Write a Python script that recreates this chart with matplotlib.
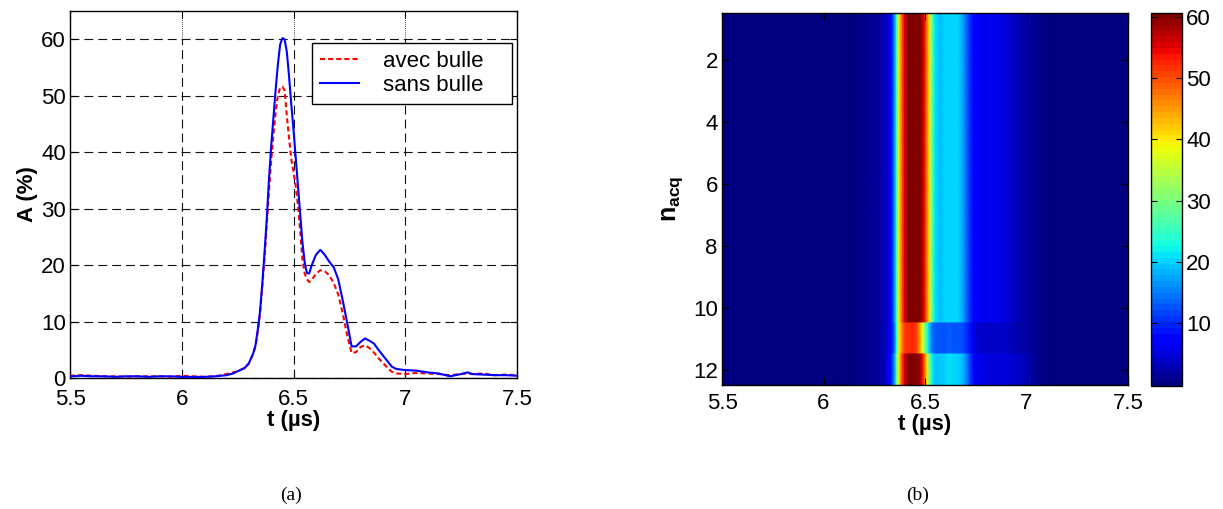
import numpy as np
import matplotlib
matplotlib.use('Agg')
import matplotlib.pyplot as plt
from matplotlib.colors import Normalize
from matplotlib.cm import ScalarMappable

plt.rcParams['font.family'] = ['Liberation Sans', 'DejaVu Sans']
plt.rcParams['mathtext.fontset'] = 'custom'
plt.rcParams['mathtext.rm'] = 'Liberation Sans'
plt.rcParams['mathtext.bf'] = 'Liberation Sans:bold'

# ---------------- data ----------------
t = [5.50, 5.55, 5.60, 5.65, 5.70, 5.75, 5.80, 5.85, 5.90, 5.95,
     6.00, 6.05, 6.10, 6.15, 6.20, 6.23, 6.25, 6.28, 6.30, 6.32,
     6.33, 6.34, 6.35, 6.36, 6.37, 6.38, 6.39, 6.40, 6.41, 6.42,
     6.43, 6.44, 6.45, 6.46, 6.47, 6.48, 6.49, 6.50, 6.51, 6.52,
     6.53, 6.54, 6.55, 6.56, 6.57, 6.58, 6.60, 6.62, 6.64, 6.66,
     6.68, 6.70, 6.72, 6.74, 6.76, 6.78, 6.80, 6.82, 6.84, 6.86,
     6.88, 6.90, 6.92, 6.94, 6.96, 7.00, 7.05, 7.10, 7.15, 7.20,
     7.25, 7.28, 7.30, 7.35, 7.40, 7.45, 7.50]

a_sans_bulle = [0.3, 0.4, 0.3, 0.3, 0.2, 0.3, 0.3, 0.2, 0.3, 0.3,
                0.2, 0.2, 0.2, 0.3, 0.5, 0.8, 1.2, 1.7, 2.6, 4.4,
                5.8, 8.5, 11.7, 16.5, 22.0, 28.0, 35.0, 41.0, 46.0, 51.0,
                55.5, 59.0, 60.2, 60.0, 57.8, 53.5, 48.5, 44.0, 39.0, 34.0,
                29.0, 24.0, 20.5, 18.6, 18.5, 19.8, 21.8, 22.7, 21.8, 20.6,
                19.6, 17.5, 13.8, 9.8, 5.6, 5.6, 6.4, 7.0, 6.6, 6.1,
                5.0, 4.0, 3.0, 2.0, 1.6, 1.4, 1.3, 1.0, 0.8, 0.3,
                0.7, 1.0, 0.7, 0.6, 0.5, 0.5, 0.4]

a_avec_bulle = [0.4, 0.5, 0.4, 0.3, 0.3, 0.2, 0.3, 0.3, 0.3, 0.2,
                0.4, 0.3, 0.2, 0.3, 0.7, 1.0, 1.2, 1.8, 2.5, 4.3,
                5.6, 8.2, 11.3, 16.0, 21.0, 27.0, 33.0, 38.5, 43.0, 47.0,
                50.0, 51.4, 51.6, 51.0, 46.5, 42.5, 38.8, 36.5, 34.0, 30.5,
                26.0, 21.0, 18.5, 17.5, 17.0, 17.3, 18.4, 19.1, 18.9, 18.2,
                16.8, 14.8, 11.5, 7.6, 4.4, 4.6, 5.5, 5.8, 5.3, 4.5,
                3.5, 2.7, 1.8, 1.1, 0.8, 0.7, 0.9, 0.8, 0.7, 0.5,
                0.7, 0.8, 0.7, 0.8, 0.5, 0.6, 0.5]

# heat-map profiles (same time grid), rows n_acq = 1..12
heat_typical = [0.5, 0.5, 0.5, 0.5, 0.5, 0.5, 0.5, 0.5, 0.5, 0.5,
                0.5, 0.5, 0.5, 0.6, 0.8, 1.2, 1.6, 2.4, 3.0, 5.0,
                7.0, 11.0, 16.0, 25.0, 37.0, 45.0, 51.0, 55.0, 58.0, 60.0,
                60.5, 60.6, 60.6, 60.5, 60.0, 59.0, 57.0, 53.0, 47.0, 41.0,
                33.0, 26.0, 21.5, 20.0, 19.5, 19.5, 19.8, 20.2, 20.5, 20.2,
                18.5, 15.0, 11.0, 8.0, 6.5, 6.0, 5.8, 5.8, 5.6, 5.5,
                5.2, 4.8, 4.3, 3.8, 3.3, 2.5, 1.0, 0.5, 0.5, 0.5,
                0.5, 0.5, 0.5, 0.5, 0.5, 0.5, 0.5]

heat_row11 = [0.5, 0.5, 0.5, 0.5, 0.5, 0.5, 0.5, 0.5, 0.5, 0.5,
              0.5, 0.5, 0.5, 0.6, 0.8, 1.2, 1.5, 2.2, 3.0, 5.0,
              7.0, 10.0, 15.0, 24.0, 36.0, 43.0, 48.0, 50.5, 51.5, 52.0,
              52.5, 52.5, 52.0, 50.5, 47.0, 42.0, 37.0, 31.0, 25.0, 20.0,
              16.0, 14.0, 13.2, 13.0, 13.0, 13.0, 13.0, 13.2, 13.0, 12.8,
              12.3, 11.0, 9.0, 6.0, 4.5, 4.2, 4.0, 4.0, 4.0, 3.9,
              3.8, 3.6, 3.4, 3.0, 2.6, 2.0, 0.9, 0.5, 0.5, 0.5,
              0.5, 0.5, 0.5, 0.5, 0.5, 0.5, 0.5]

heat_row12 = [0.5, 0.5, 0.5, 0.5, 0.5, 0.5, 0.5, 0.5, 0.5, 0.5,
              0.5, 0.5, 0.5, 0.6, 0.8, 1.2, 1.6, 2.4, 3.2, 5.5,
              7.5, 12.0, 17.0, 27.0, 38.0, 46.0, 52.0, 56.0, 58.5, 60.0,
              60.5, 60.6, 60.5, 60.0, 59.0, 57.0, 53.0, 47.0, 40.0, 32.0,
              25.0, 21.0, 19.5, 19.0, 19.0, 19.5, 20.5, 21.0, 20.5, 20.0,
              19.0, 16.0, 11.5, 8.0, 6.0, 5.5, 5.4, 5.4, 5.3, 5.2,
              5.0, 4.8, 4.6, 4.4, 4.2, 3.0, 1.0, 0.5, 0.5, 0.5,
              0.5, 0.5, 0.5, 0.5, 0.5, 0.5, 0.5]

n_acq = [1, 2, 3, 4, 5, 6, 7, 8, 9, 10, 11, 12]
heat_rows = [heat_typical] * 10 + [heat_row11, heat_row12]

x_ticks = [5.5, 6, 6.5, 7, 7.5]
x_ticklabels = ['5.5', '6', '6.5', '7', '7.5']
a_yticks = [0, 10, 20, 30, 40, 50, 60]
n_yticks = [2, 4, 6, 8, 10, 12]
cbar_ticks = [10, 20, 30, 40, 50, 60]

# ---------------- figure ----------------
W, H = 1223, 509
fig = plt.figure(figsize=(W / 100, H / 100), dpi=100)

def fbox(x0, y0, x1, y1):
    return [x0 / W, 1 - y1 / H, (x1 - x0) / W, (y1 - y0) / H]

FS = 16
GRID_LS = (0, (8, 4.5))

# ---- (a) line plot ----
ax1 = fig.add_axes(fbox(70, 11, 517, 378))
ax1.plot(t, a_avec_bulle, color='#ff0000', lw=1.5, ls=(0, (2.4, 1.5)), label='avec bulle', zorder=3)
ax1.plot(t, a_sans_bulle, color='#0000ff', lw=1.5, label='sans bulle', zorder=4)
ax1.set_xlim(5.5, 7.5)
ax1.set_ylim(0, 65)
ax1.set_xticks(x_ticks)
ax1.set_xticklabels(x_ticklabels)
ax1.set_yticks(a_yticks)
ax1.grid(True, axis='y', color='#111111', lw=0.8, ls=GRID_LS)
# vertical grid lines: dashed up to 60, dotted above (as in the original)
for xv in x_ticks[1:-1]:
    ax1.axvline(xv, ymin=0, ymax=60 / 65, color='#111111', lw=0.8, ls=GRID_LS, zorder=1)
    ax1.axvline(xv, ymin=60 / 65, ymax=1, color='#111111', lw=0.6, ls=(0, (1, 1.5)), zorder=1)
ax1.set_axisbelow(True)
ax1.tick_params(direction='in', top=True, right=True, length=5, width=0.8, labelsize=FS)
ax1.tick_params(axis='x', pad=8)
ax1.tick_params(axis='y', pad=3)
for s in ax1.spines.values():
    s.set_linewidth(1.0)
ax1.set_xlabel('t (µs)', fontsize=FS, fontweight='bold', labelpad=0)
ax1.set_ylabel('A (%)', fontsize=FS, fontweight='bold', labelpad=2)
leg = ax1.legend(loc='upper left',
                 bbox_to_anchor=((312 - 70) / 447, 0, 200 / 447, 1 - 32 / 367),
                 mode='expand', borderaxespad=0, fontsize=FS, fancybox=False,
                 framealpha=1, edgecolor='black', handlelength=1.75,
                 handletextpad=1.08, borderpad=0.35, labelspacing=0.15)
leg.get_frame().set_linewidth(1.0)

# ---- (b) heat map ----
cmap = plt.get_cmap('jet', 64)
norm = Normalize(vmin=-0.2, vmax=60.6)
ax2 = fig.add_axes(fbox(722, 13, 1128, 385))
tt = np.asarray(t)
for n, prof in zip(n_acq, heat_rows):
    X = np.vstack([tt, tt])
    Y = np.vstack([np.full_like(tt, n - 0.5), np.full_like(tt, n + 0.5)])
    C = np.vstack([prof, prof])
    ax2.pcolormesh(X, Y, C, shading='gouraud', cmap=cmap, norm=norm,
                   antialiased=False, rasterized=True)
ax2.set_xlim(5.5, 7.5)
ax2.set_ylim(12.5, 0.5)
ax2.set_xticks(x_ticks)
ax2.set_xticklabels(x_ticklabels)
ax2.set_yticks(n_yticks)
ax2.tick_params(direction='in', top=True, right=True, length=5, width=0.8, labelsize=FS)
ax2.tick_params(axis='x', pad=6)
ax2.tick_params(axis='y', pad=3)
for s in ax2.spines.values():
    s.set_linewidth(1.0)
ax2.set_xlabel('t (µs)', fontsize=FS, fontweight='bold', labelpad=0)
ax2.set_ylabel(r'$\mathbf{n}_{\mathbf{acq}}$', fontsize=FS + 2, labelpad=6)

# ---- colorbar ----
cax = fig.add_axes(fbox(1151, 13, 1182, 386))
sm = ScalarMappable(norm=norm, cmap=cmap)
cb = fig.colorbar(sm, cax=cax)
cb.set_ticks(cbar_ticks)
cb.outline.set_linewidth(1.0)
cax.tick_params(direction='in', left=True, right=True, length=4, width=0.8,
                labelsize=FS, pad=3)

# ---- captions ----
fig.text(291 / W, 1 - 495 / H, '(a)', ha='center', va='center', fontsize=14,
         family=['Liberation Serif', 'DejaVu Serif'])
fig.text(918 / W, 1 - 495 / H, '(b)', ha='center', va='center', fontsize=14,
         family=['Liberation Serif', 'DejaVu Serif'])

fig.savefig('out.png', dpi=100)
